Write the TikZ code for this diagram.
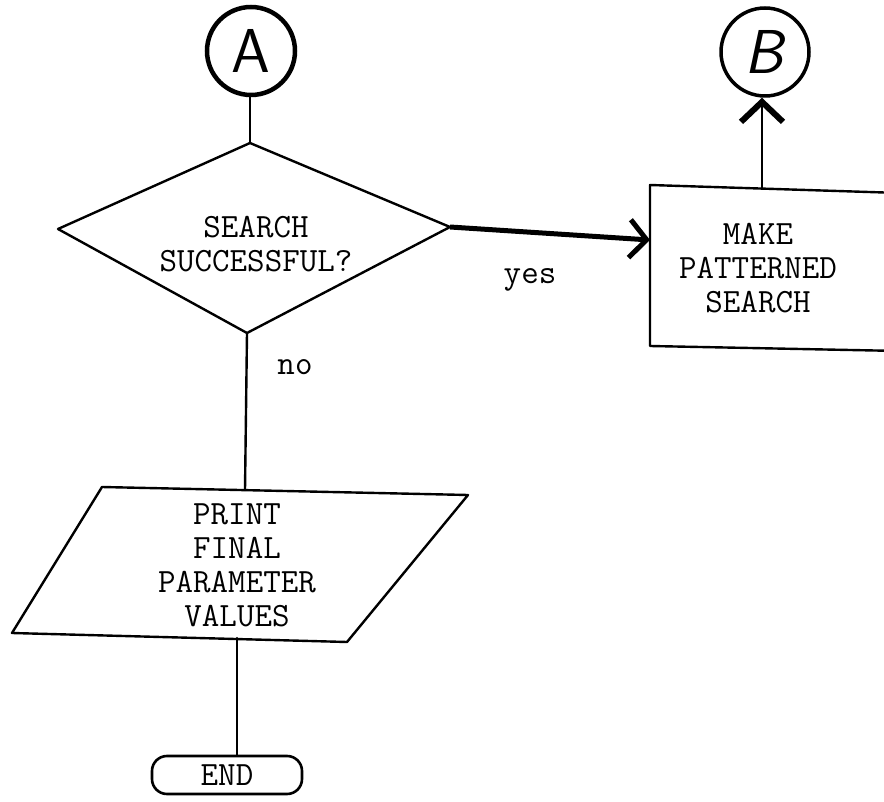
\documentclass[tikz,border=0pt]{standalone}
\usetikzlibrary{arrows.meta}
\begin{document}
\begin{tikzpicture}[x=1pt,y=-1pt,
  txt/.style={font=\ttfamily\fontsize{34}{34}\selectfont, align=center, inner sep=0pt},
  ln/.style={line width=2.4pt, line join=round, line cap=round},
  conn/.style={circle, draw, line width=4.5pt, minimum size=88pt, inner sep=0pt, font=\sffamily\fontsize{62}{62}\selectfont},
  barb/.style={-{Straight Barb[length=17pt,width=38pt,line width=5pt]}}]
\useasboundingbox (0,0) rectangle (884,802);
\clip (0,0) rectangle (884,802);
% connectors A and B
\node[conn] (A) at (251,51) {A};
\node[conn, line width=3.5pt] (B) at (765,52) {\textit{B}};
% diamond
\coordinate (dt) at (250,143);
\coordinate (dl) at (58,229);
\coordinate (dr) at (450,227);
\coordinate (db) at (247,333);
\draw[ln] (dt) -- (dr) -- (db) -- (dl) -- cycle;
\node[txt] (q) at (256,244) {SEARCH\\SUCCESSFUL?};
% box
\coordinate (bl) at (650,185);
\coordinate (bbl) at (650,346);
\coordinate (btr) at (900,193);
\coordinate (bbr) at (900,351);
\coordinate (bin) at (650,240);
\coordinate (btop) at (762,188);
\draw[ln] (btr) -- (bl) -- (bbl) -- (bbr);
\node[txt] (mk) at (758,268) {MAKE\\PATTERNED\\SEARCH};
% parallelogram
\coordinate (ptl) at (102,487);
\coordinate (ptr) at (468,495);
\coordinate (pbr) at (347,642);
\coordinate (pbl) at (12,633);
\coordinate (ptop) at (245,490);
\coordinate (pbot) at (237,638);
\draw[ln] (ptl) -- (ptr) -- (pbr) -- (pbl) -- cycle;
\node[txt] (pr) at (237,565) {PRINT\\FINAL\\PARAMETER\\VALUES};
% END terminal
\node[draw, line width=2.6pt, rounded corners=15pt, minimum width=150pt, minimum height=38pt,
      inner sep=0pt, font=\ttfamily\fontsize{34}{34}\selectfont] (end) at (227,775) {END};
% connectors
\draw[ln] (dt |- A.south) -- (dt);
\draw[line width=5pt, barb] (dr) -- (bin);
\draw[ln, -{Straight Barb[length=20pt,width=42pt,line width=6pt]}] (btop) -- (btop |- B.south);
\draw[ln] (db) -- (ptop);
\draw[ln] (pbot) -- (pbot |- end.north);
% labels
\node[txt] (yes) at (530,280) {yes};
\node[txt] (no) at (295,367) {no};
\end{tikzpicture}
\end{document}
